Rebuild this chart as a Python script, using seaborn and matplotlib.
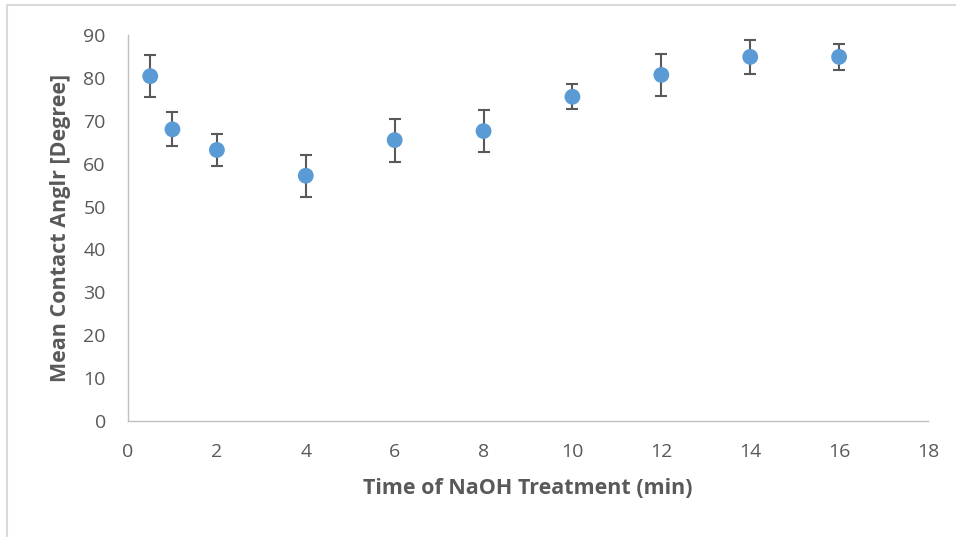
import matplotlib
matplotlib.use("Agg")
import matplotlib.pyplot as plt
import seaborn as sns
import pandas as pd

# data
time_min = [0.5, 1, 2, 4, 6, 8, 10, 12, 14, 16]
mean_angle = [80.4, 68.0, 63.2, 57.2, 65.5, 67.6, 75.6, 80.7, 84.9, 84.9]
std_angle = [4.95, 3.95, 3.8, 4.9, 5.0, 4.95, 2.95, 4.85, 3.95, 3.1]

df = pd.DataFrame({"time": time_min, "angle": mean_angle, "err": std_angle})

sns.set_theme(style="white")
plt.rcParams["font.family"] = ["Open Sans", "DejaVu Sans"]

fig = plt.figure(figsize=(9.56, 5.37), dpi=100)
ax = fig.add_axes([0.1339, 0.216, 0.9707 - 0.1339, 0.9348 - 0.216])

# light chart-area border like Excel
fig.add_artist(plt.Line2D([0.0078, 0.0078], [0, 0.991], transform=fig.transFigure,
                          color="#d9d9d9", lw=1.5))
fig.add_artist(plt.Line2D([0.0078, 1], [0.991, 0.991], transform=fig.transFigure,
                          color="#d9d9d9", lw=1.5))

ax.errorbar(df["time"], df["angle"], yerr=df["err"], fmt="none",
            ecolor="#595959", elinewidth=1.5, capsize=4.5, capthick=1.5, zorder=2)
sns.scatterplot(data=df, x="time", y="angle", ax=ax, color="#5b9bd5",
                s=130, edgecolor="none", zorder=3)

ax.set_xlim(0, 18)
ax.set_ylim(0, 90)
ax.set_xticks(range(0, 19, 2))
ax.set_yticks(range(0, 91, 10))

for side in ["top", "right"]:
    ax.spines[side].set_visible(False)
for side in ["left", "bottom"]:
    ax.spines[side].set_color("#bfbfbf")
    ax.spines[side].set_linewidth(1)

ax.tick_params(axis="both", length=0, labelsize=14, labelcolor="#595959")
ax.tick_params(axis="x", pad=16)
ax.tick_params(axis="y", pad=16)

ax.set_xlabel("Time of NaOH Treatment (min)", fontsize=15.5, fontweight="bold",
              color="#595959", labelpad=12)
ax.set_ylabel("Mean Contact Anglr [Degree]", fontsize=15.5, fontweight="bold",
              color="#595959", labelpad=9)

fig.savefig("out.png", dpi=100)
